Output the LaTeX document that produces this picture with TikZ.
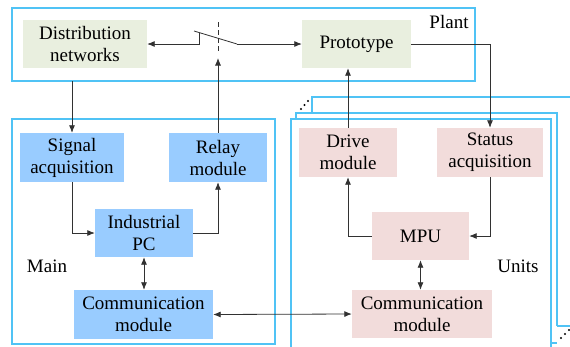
\documentclass[tikz,border=0pt]{standalone}
\usepackage{fontspec}
\setmainfont{Liberation Serif}
\newfontfamily\tnr{Liberation Serif}
\usetikzlibrary{arrows.meta}
\definecolor{frameblue}{RGB}{80,195,245}
\definecolor{plantgreen}{RGB}{233,239,223}
\definecolor{mainblue}{RGB}{153,204,255}
\definecolor{unitpink}{RGB}{242,220,219}
\definecolor{linegray}{RGB}{50,50,50}
\begin{document}
\begin{tikzpicture}[x=1pt,y=-1pt,
  every node/.style={font=\tnr\fontsize{19}{22}\selectfont},
  frame/.style={draw=frameblue,line width=1.4pt},
  boxbase/.style={inner sep=0pt,align=center,anchor=center},
  pbox/.style={boxbase,fill=plantgreen},
  mbox/.style={boxbase,fill=mainblue},
  ubox/.style={boxbase,fill=unitpink},
  arr/.style={draw=linegray,line width=0.8pt,-{Latex[length=7.5pt,width=6pt]}},
  darr/.style={draw=linegray,line width=0.8pt,{Latex[length=7.5pt,width=6pt]}-{Latex[length=7.5pt,width=6pt]}},
  ln/.style={draw=linegray,line width=0.8pt}]
\useasboundingbox[fill=white] (0,0) rectangle (570,346);

% Plant frame
\draw[frame] (12,8) rectangle (475,81);
\coordinate (plantbot) at (12,81);
\node[pbox,minimum width=124pt,minimum height=48pt] (dist) at (85,44) {Distribution\\networks};
\node[pbox,minimum width=109pt,minimum height=48pt] (proto) at (356.5,44) {Prototype};
\node (plantlbl) at (449,22) {Plant};

% Main frame
\draw[frame] (12,119) rectangle (275,344);
\node[mbox,minimum width=104pt,minimum height=49pt] (sig) at (72,157.5) {Signal\\acquisition};
\node[mbox,minimum width=98pt,minimum height=49pt] (relay) at (218,157.5) {Relay\\module};
\node[mbox,minimum width=98pt,minimum height=48pt] (ipc) at (144,233) {Industrial\\PC};
\node[mbox,minimum width=139pt,minimum height=49pt] (commM) at (143.5,314.5) {Communication\\module};
\node (mainlbl) at (47,266) {Main};

% Units frames (stack)
\draw[frame] (312,113) -- (312,97) -- (575,97);
\draw[frame] (557,326) -- (575,326);
\draw[frame] (296,119) -- (296,113) -- (557,113) -- (557,326);
\draw[frame] (551,343) -- (557,343);
\draw[frame,fill=white] (291,119) rectangle (551,360);
\fill (301,109) circle (1.1pt) (304.5,105) circle (1.1pt) (308,101) circle (1.1pt);
\fill (561,338) circle (1.1pt) (565,334) circle (1.1pt) (569,330) circle (1.1pt);

\node[ubox,minimum width=98pt,minimum height=49pt] (drive) at (348,152.5) {Drive\\module};
\node[ubox,minimum width=106pt,minimum height=49pt] (status) at (490,152.5) {Status\\acquisition};
\node[ubox,minimum width=97pt,minimum height=48pt] (mpu) at (420.5,236) {MPU};
\node[ubox,minimum width=140pt,minimum height=48pt] (commU) at (422,314) {Communication\\module};
\node (unitslbl) at (518,266) {Units};

% Switch
\coordinate (swR) at (237,44);
\coordinate (swBlade) at (194,31);
\coordinate (swL) at (199,33);
\coordinate (swIn) at (218,58);
\draw[ln] (swR) -- (swBlade);
\draw[arr] (swR) -- (proto.west);
\draw[arr] (swL) |- (dist.east);
\draw[ln,dashed,dash pattern=on 5pt off 3pt] (218,22) -- (218,52);

% Connectors
\draw[arr] (sig.north |- plantbot) -- (sig.north);
\draw[arr] (sig.south) |- (ipc.west);
\draw[arr] (ipc.east) -| (relay.south);
\draw[arr] (relay.north) -- (swIn);
\draw[darr] (ipc.south) -- (ipc.south |- commM.north);
\draw[darr] (commM.east) -- (commU.west);
\draw[arr] (proto.east) -| (status.north);
\draw[arr] (drive.north) -- (drive.north |- proto.south);
\draw[arr] (mpu.west) -| (drive.south);
\draw[arr] (status.south) |- (mpu.east);
\draw[darr] (mpu.south) -- (mpu.south |- commU.north);
\end{tikzpicture}
\end{document}
